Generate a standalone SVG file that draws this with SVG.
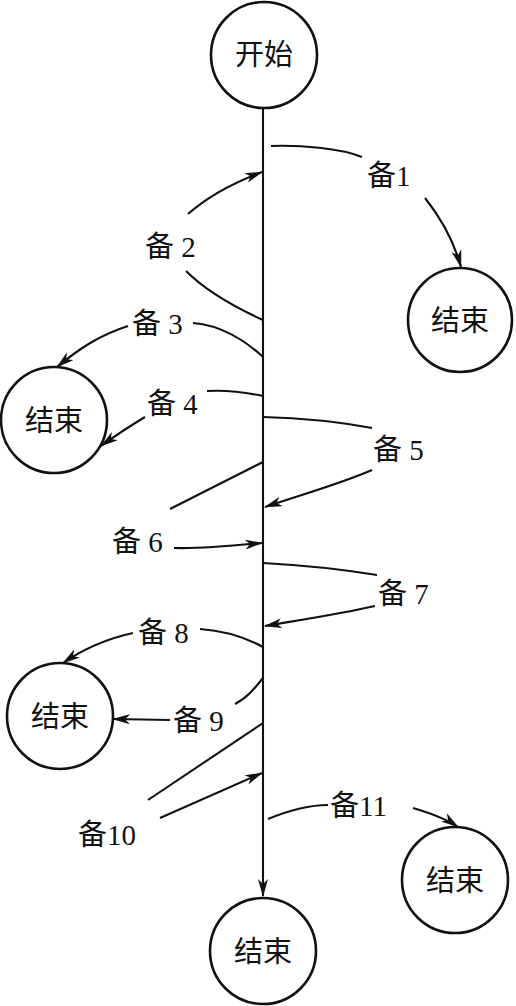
<svg xmlns="http://www.w3.org/2000/svg" width="516" height="1006" viewBox="0 0 516 1006">
<style>
.node circle{fill:#fff;stroke:#111;stroke-width:2.6}
.node text{font-family:"Liberation Serif","Noto Sans CJK SC",serif;font-size:29px;fill:#111;text-anchor:middle}
.lbl{font-family:"Liberation Serif","Noto Sans CJK SC",serif;font-size:29px;fill:#111}
.c{fill:none;stroke:#111;stroke-width:2.1}
.a{fill:none;stroke:#111;stroke-width:2.1;marker-end:url(#arr)}
</style>
<defs>
<marker id="arr" viewBox="0 0 18 10" refX="17" refY="5" markerWidth="18" markerHeight="10" markerUnits="userSpaceOnUse" orient="auto">
<path d="M0,0 L18,5 L0,10 L5,5 z" fill="#111"/>
</marker>
</defs>
<rect width="516" height="1006" fill="#fff"/>
<g id="connectors">
<path class="a" d="M263,108 L263,896"/>
<path class="c" d="M271,146 C300,145 340,148 362,157"/>
<path class="a" d="M425,198 C437,213 452,235 461,267"/>
<path class="a" d="M188,214 C205,199 230,184 262,172"/>
<path class="c" d="M186,271 C205,290 230,305 263,320"/>
<path class="c" d="M193,323 C220,325 245,340 263,357"/>
<path class="a" d="M128,326 C100,335 80,348 57,367"/>
<path class="c" d="M207,391 C225,390 240,391 263,396"/>
<path class="a" d="M145,417 C130,426 115,436 101,446"/>
<path class="c" d="M263,417 C300,418 340,422 372,428"/>
<path class="a" d="M372,470 C340,484 300,495 265,507"/>
<path class="c" d="M170,509 L263,462"/>
<path class="a" d="M174,548 C200,549 230,546 262,543"/>
<path class="c" d="M263,563 C300,565 340,569 377,575"/>
<path class="a" d="M375,606 C340,614 300,620 265,626"/>
<path class="c" d="M200,629 C230,631 250,640 263,647"/>
<path class="a" d="M133,633 C110,638 85,648 63,663"/>
<path class="c" d="M235,704 C247,698 255,688 263,678"/>
<path class="a" d="M170,720 L113,719"/>
<path class="c" d="M148,800 L263,723"/>
<path class="a" d="M160,818 L262,773"/>
<path class="c" d="M268,819 C285,812 305,805 328,805"/>
<path class="a" d="M413,808 C430,813 445,818 458,827"/>
</g>
<g id="labels">
<text class="lbl" x="367" y="186">备1</text>
<text class="lbl" x="145" y="257">备 2</text>
<text class="lbl" x="132" y="334">备 3</text>
<text class="lbl" x="147" y="414">备 4</text>
<text class="lbl" x="373" y="460">备 5</text>
<text class="lbl" x="112" y="552">备 6</text>
<text class="lbl" x="378" y="604">备 7</text>
<text class="lbl" x="138" y="643">备 8</text>
<text class="lbl" x="173" y="731">备 9</text>
<text class="lbl" x="78" y="845">备10</text>
<text class="lbl" x="330" y="816">备11</text>
</g>
<g id="start" class="node"><circle cx="264" cy="55" r="53"/><text x="264" y="65">开始</text></g>
<g id="end1" class="node"><circle cx="460" cy="320" r="52"/><text x="460" y="331">结束</text></g>
<g id="end2" class="node"><circle cx="54" cy="420" r="53"/><text x="54" y="431">结束</text></g>
<g id="end3" class="node"><circle cx="60" cy="716" r="53"/><text x="60" y="727">结束</text></g>
<g id="end4" class="node"><circle cx="455" cy="880" r="53"/><text x="455" y="891">结束</text></g>
<g id="end5" class="node"><circle cx="263" cy="951" r="53"/><text x="263" y="962">结束</text></g>
</svg>
